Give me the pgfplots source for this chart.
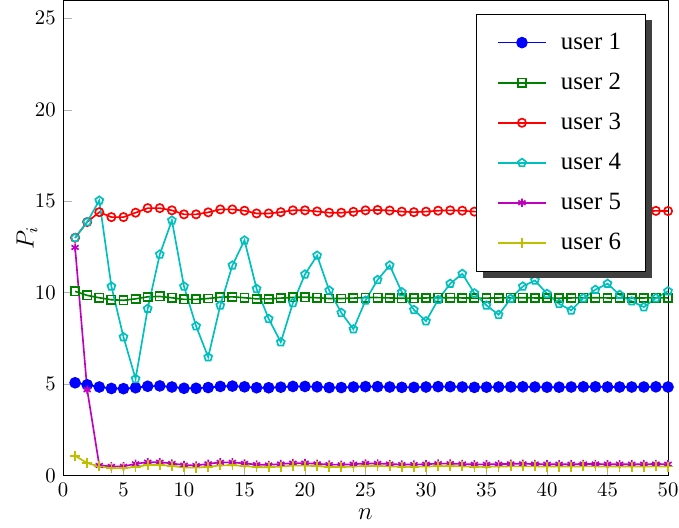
\documentclass[border=0pt]{standalone}
\usepackage{fontspec}
\setmainfont{Liberation Serif}
\usepackage{pgfplots}
\pgfplotsset{compat=1.18}
\usetikzlibrary{plotmarks}
\definecolor{c1}{rgb}{0,0,1}
\definecolor{c2}{rgb}{0,0.5,0}
\definecolor{c3}{rgb}{1,0,0}
\definecolor{c4}{rgb}{0,0.75,0.75}
\definecolor{c5}{rgb}{0.75,0,0.75}
\definecolor{c6}{rgb}{0.75,0.75,0}
\begin{document}
\begin{tikzpicture}
\begin{axis}[
  name=ax,
  scale only axis,
  width=292pt, height=229.5pt,
  xmin=0, xmax=50, ymin=0, ymax=26,
  xtick={0,5,...,50}, ytick={0,5,...,25},
  tick pos=left,
  tick style={color=black!30},
  xlabel={$n$}, ylabel={$P_i$},
  label style={font=\large},
  xlabel style={yshift=1pt},
  ylabel style={yshift=-8pt},
  legend cell align=left,
  legend style={name=leg, at={(0.964,0.971)}, anchor=north east, font=\large,
    draw=black, fill=white, inner xsep=10pt, inner ysep=7pt, row sep=5.9pt, column sep=5pt},
  legend image code/.code={\draw[mark repeat=2,mark phase=2,#1] plot coordinates {(0cm,0cm)(0.4cm,0cm)(0.8cm,0cm)};},
  every axis plot/.append style={line width=0.8pt, mark size=2pt},
]
\addplot[color=c1, mark=*, mark size=2.4pt, mark options={solid, fill=c1}] coordinates {
(1,5.07)(2,4.96)(3,4.84)(4,4.76)(5,4.75)(6,4.80)(7,4.88)(8,4.90)(9,4.84)(10,4.77)
(11,4.77)(12,4.81)(13,4.87)(14,4.89)(15,4.85)(16,4.80)(17,4.80)(18,4.83)(19,4.87)(20,4.87)
(21,4.85)(22,4.81)(23,4.81)(24,4.84)(25,4.86)(26,4.86)(27,4.84)(28,4.82)(29,4.82)(30,4.84)
(31,4.86)(32,4.86)(33,4.84)(34,4.82)(35,4.83)(36,4.84)(37,4.85)(38,4.85)(39,4.84)(40,4.83)
(41,4.83)(42,4.84)(43,4.85)(44,4.85)(45,4.84)(46,4.84)(47,4.84)(48,4.84)(49,4.85)(50,4.84)};
\addlegendentry{user 1}
\addplot[color=c2, mark=square, mark options={solid, fill=white}] coordinates {
(1,10.07)(2,9.85)(3,9.72)(4,9.61)(5,9.58)(6,9.66)(7,9.77)(8,9.79)(9,9.72)(10,9.63)
(11,9.63)(12,9.68)(13,9.75)(14,9.77)(15,9.72)(16,9.66)(17,9.66)(18,9.70)(19,9.74)(20,9.75)
(21,9.72)(22,9.68)(23,9.68)(24,9.70)(25,9.73)(26,9.73)(27,9.71)(28,9.69)(29,9.69)(30,9.71)
(31,9.72)(32,9.72)(33,9.71)(34,9.70)(35,9.70)(36,9.71)(37,9.72)(38,9.72)(39,9.71)(40,9.70)
(41,9.70)(42,9.71)(43,9.72)(44,9.72)(45,9.71)(46,9.71)(47,9.71)(48,9.71)(49,9.72)(50,9.71)};
\addlegendentry{user 2}
\addplot[color=c3, mark=o, mark options={solid, fill=white}] coordinates {
(1,13.00)(2,13.86)(3,14.40)(4,14.13)(5,14.13)(6,14.37)(7,14.62)(8,14.62)(9,14.50)(10,14.28)
(11,14.28)(12,14.39)(13,14.55)(14,14.55)(15,14.48)(16,14.33)(17,14.33)(18,14.40)(19,14.50)(20,14.50)
(21,14.44)(22,14.37)(23,14.37)(24,14.42)(25,14.50)(26,14.52)(27,14.49)(28,14.43)(29,14.40)(30,14.43)
(31,14.48)(32,14.50)(33,14.48)(34,14.43)(35,14.41)(36,14.44)(37,14.48)(38,14.49)(39,14.47)(40,14.43)
(41,14.42)(42,14.44)(43,14.47)(44,14.48)(45,14.46)(46,14.44)(47,14.43)(48,14.45)(49,14.47)(50,14.46)};
\addlegendentry{user 3}
\addplot[color=c4, mark=pentagon, mark options={solid, fill=white}] coordinates {
(1,13.00)(2,13.86)(3,15.04)(4,10.34)(5,7.57)(6,5.29)(7,9.12)(8,12.09)(9,13.95)(10,10.34)
(11,8.17)(12,6.47)(13,9.30)(14,11.49)(15,12.86)(16,10.21)(17,8.57)(18,7.29)(19,9.43)(20,11.00)
(21,12.03)(22,10.12)(23,8.90)(24,8.00)(25,9.57)(26,10.70)(27,11.49)(28,10.03)(29,9.06)(30,8.44)
(31,9.61)(32,10.49)(33,11.03)(34,9.97)(35,9.30)(36,8.79)(37,9.67)(38,10.34)(39,10.67)(40,9.94)
(41,9.39)(42,9.03)(43,9.70)(44,10.16)(45,10.49)(46,9.88)(47,9.53)(48,9.21)(49,9.70)(50,10.08)};
\addlegendentry{user 4}
\addplot[color=c5, mark=asterisk, mark options={solid}] coordinates {
(1,12.47)(2,4.69)(3,0.55)(4,0.50)(5,0.50)(6,0.64)(7,0.73)(8,0.73)(9,0.66)(10,0.57)
(11,0.55)(12,0.64)(13,0.72)(14,0.72)(15,0.66)(16,0.60)(17,0.58)(18,0.63)(19,0.68)(20,0.68)
(21,0.64)(22,0.60)(23,0.59)(24,0.62)(25,0.66)(26,0.66)(27,0.63)(28,0.60)(29,0.60)(30,0.62)
(31,0.65)(32,0.65)(33,0.63)(34,0.61)(35,0.61)(36,0.62)(37,0.64)(38,0.64)(39,0.63)(40,0.62)
(41,0.62)(42,0.62)(43,0.63)(44,0.63)(45,0.62)(46,0.62)(47,0.62)(48,0.62)(49,0.63)(50,0.62)};
\addlegendentry{user 5}
\addplot[color=c6, mark=+, mark size=2.4pt, mark options={solid}] coordinates {
(1,1.08)(2,0.68)(3,0.50)(4,0.40)(5,0.40)(6,0.47)(7,0.57)(8,0.58)(9,0.52)(10,0.44)
(11,0.43)(12,0.48)(13,0.55)(14,0.56)(15,0.52)(16,0.46)(17,0.45)(18,0.49)(19,0.54)(20,0.54)
(21,0.51)(22,0.47)(23,0.46)(24,0.49)(25,0.52)(26,0.52)(27,0.50)(28,0.48)(29,0.48)(30,0.49)
(31,0.51)(32,0.51)(33,0.50)(34,0.48)(35,0.48)(36,0.49)(37,0.50)(38,0.50)(39,0.50)(40,0.49)
(41,0.49)(42,0.49)(43,0.50)(44,0.50)(45,0.49)(46,0.49)(47,0.49)(48,0.49)(49,0.50)(50,0.49)};
\addlegendentry{user 6}
\end{axis}
\fill[black!75] ([yshift=-3pt]leg.north east) rectangle ([shift={(3pt,-3pt)}]leg.south east);
\fill[black!75] ([xshift=3pt]leg.south west) rectangle ([shift={(3pt,-3pt)}]leg.south east);
\pgfresetboundingbox
\path[use as bounding box] ([shift={(-30.4pt,-25.1pt)}]ax.south west) rectangle ([xshift=5.3pt]ax.north east);
\end{tikzpicture}
\end{document}
